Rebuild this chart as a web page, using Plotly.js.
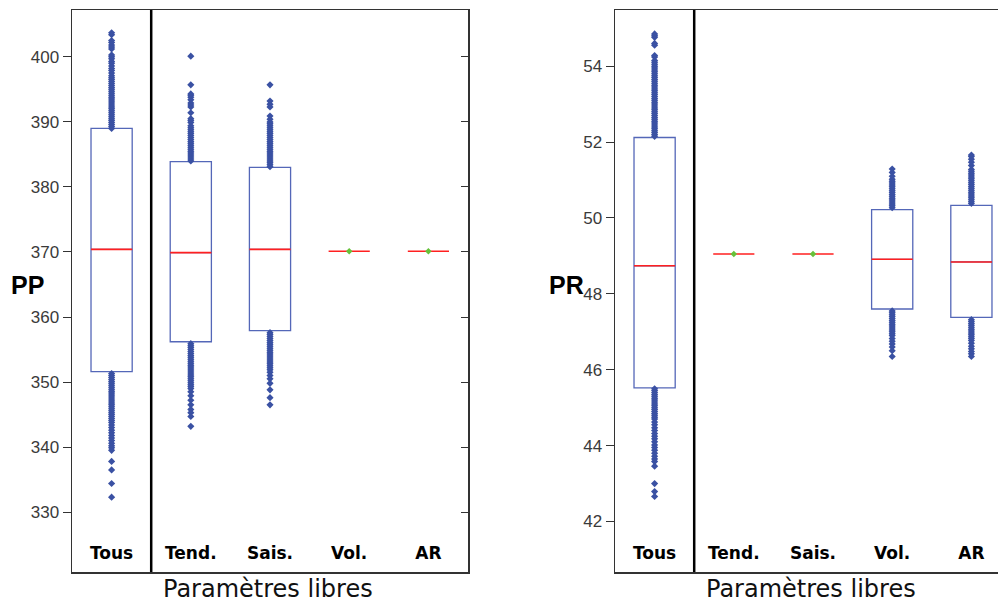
<!DOCTYPE html>
<html>
<head>
<meta charset="utf-8">
<script src="https://cdn.plot.ly/plotly-3.0.1.min.js"></script>
<style>html,body{margin:0;padding:0;background:#fff;}#chart{width:998px;height:604px;}</style>
</head>
<body>
<div id="chart"></div>
<script>
// ---------- categories ----------
var categories = ["Tous", "Tend.", "Sais.", "Vol.", "AR"];

// ---------- PP panel ----------
var ppBoxCats = ["Tous", "Tend.", "Sais."];
var ppQ1 = [351.6, 356.2, 357.9];
var ppMed = [370.4, 369.9, 370.4];
var ppQ3 = [389.0, 383.9, 383.0];
var ppAllMedians = [370.4, 369.9, 370.4, 370.1, 370.1];
var ppFixedCats = ["Vol.", "AR"];
var ppFixedVals = [370.1, 370.1];

var ppTousOut = [389.0,389.3,389.6,389.9,390.2,390.5,390.8,391.1,391.4,391.7,392.0,392.3,392.6,392.9,393.2,393.5,393.8,394.1,394.4,394.7,395.0,395.3,395.6,395.9,396.2,396.5,396.8,397.1,397.5,397.9,398.2,398.6,399.0,399.3,399.7,400.0,400.3,401.2,401.5,401.8,402.2,402.5,403.4,403.7,
  351.3,351.0,350.7,350.4,350.1,349.8,349.5,349.2,348.9,348.6,348.3,348.0,347.7,347.4,347.1,346.8,346.5,346.2,345.9,345.6,345.3,345.0,344.7,344.4,344.1,343.8,343.4,343.0,342.6,342.2,341.8,341.4,341.0,340.6,340.2,339.9,339.5,337.8,336.5,334.4,332.3];
var ppTendOut = [384.0,384.3,384.6,384.9,385.2,385.5,385.8,386.1,386.4,386.7,387.0,387.3,387.6,387.9,388.2,388.5,388.8,389.1,389.4,389.9,390.2,390.5,391.4,392.3,392.6,392.9,393.4,393.8,394.1,394.3,395.7,400.1,
  355.9,355.6,355.3,355.0,354.7,354.4,354.1,353.8,353.5,353.2,352.9,352.6,352.3,352.0,351.7,351.4,351.1,350.8,350.5,350.2,349.9,349.6,349.3,349.0,348.5,347.9,347.2,346.5,345.8,345.3,344.7,343.2];
var ppSaisOut = [383.1,383.4,383.7,384.0,384.3,384.6,384.9,385.2,385.5,385.8,386.1,386.4,386.7,387.0,387.3,387.6,387.9,388.2,388.5,388.8,389.1,389.4,389.7,390.0,390.4,390.9,392.3,392.7,393.2,395.7,
  357.6,357.3,357.0,356.7,356.4,356.1,355.8,355.5,355.2,354.9,354.6,354.3,354.0,353.7,353.4,353.1,352.8,352.5,352.2,351.9,351.5,351.0,350.5,349.8,348.8,347.6,346.5];

// ---------- PR panel ----------
var prBoxCats = ["Tous", "Vol.", "AR"];
var prQ1 = [45.52, 47.60, 47.38];
var prMed = [48.74, 48.91, 48.84];
var prQ3 = [52.12, 50.22, 50.33];
var prAllMedians = [48.74, 49.05, 49.05, 48.91, 48.84];
var prFixedCats = ["Tend.", "Sais."];
var prFixedVals = [49.05, 49.05];

var prTousOut = [52.15,52.20,52.25,52.30,52.35,52.40,52.45,52.50,52.55,52.60,52.65,52.70,52.75,52.80,52.85,52.90,52.95,53.00,53.05,53.10,53.15,53.20,53.25,53.30,53.35,53.40,53.45,53.50,53.55,53.60,53.65,53.70,53.75,53.80,53.85,53.90,53.95,54.00,54.05,54.10,54.15,54.24,54.28,54.55,54.60,54.76,54.80,54.85,
  45.50,45.45,45.40,45.35,45.30,45.25,45.20,45.15,45.10,45.05,45.00,44.95,44.90,44.85,44.80,44.75,44.70,44.62,44.55,44.47,44.40,44.32,44.25,44.18,44.10,44.02,43.95,43.88,43.80,43.72,43.65,43.58,43.46,43.00,42.79,42.66];
var prVolOut = [50.27,50.32,50.37,50.42,50.47,50.52,50.57,50.62,50.67,50.72,50.77,50.82,50.87,50.92,50.97,51.02,51.10,51.20,51.29,
  47.55,47.50,47.45,47.40,47.35,47.30,47.25,47.20,47.15,47.10,47.05,47.00,46.95,46.90,46.82,46.75,46.68,46.60,46.50,46.35];
var prAROut = [50.38,50.43,50.48,50.53,50.58,50.63,50.68,50.73,50.78,50.83,50.88,50.93,50.98,51.03,51.08,51.13,51.18,51.23,51.28,51.38,51.47,51.55,51.62,51.66,
  47.32,47.27,47.22,47.17,47.12,47.07,47.02,46.97,46.92,46.87,46.82,46.77,46.70,46.62,46.55,46.48,46.42,46.35];

// ---------- styles ----------
var boxColor = "#5467b8";
var ptColor = "#3a51a3";
var medColor = "#ff2020";
var fixColor = "#66c23a";
var axColor = "#333333";

function boxTrace(cats, q1, med, q3, xa, ya) {
  return {type: "box", x: cats, q1: q1, median: med, q3: q3, lowerfence: q1, upperfence: q3,
    xaxis: xa, yaxis: ya, width: 0.52, whiskerwidth: 0, boxpoints: false,
    line: {color: boxColor, width: 1.3}, fillcolor: "rgba(0,0,0,0)", hoverinfo: "skip", showlegend: false};
}
function medTrace(cats, med, xa, ya) {
  return {type: "box", x: cats, q1: med, median: med, q3: med, lowerfence: med, upperfence: med,
    xaxis: xa, yaxis: ya, width: 0.52, whiskerwidth: 0, boxpoints: false,
    line: {color: medColor, width: 1.6}, fillcolor: "rgba(0,0,0,0)", hoverinfo: "skip", showlegend: false};
}
function outTrace(cat, vals, xa, ya) {
  return {type: "scatter", mode: "markers", x: vals.map(function(){return cat;}), y: vals,
    xaxis: xa, yaxis: ya, marker: {symbol: "diamond", size: 5.5, color: ptColor}, showlegend: false, hoverinfo: "skip"};
}
function fixTrace(cats, vals, xa, ya) {
  return {type: "scatter", mode: "markers", x: cats, y: vals, xaxis: xa, yaxis: ya,
    marker: {symbol: "diamond", size: 5, color: fixColor}, showlegend: false, hoverinfo: "skip"};
}

var data = [
  boxTrace(ppBoxCats, ppQ1, ppMed, ppQ3, "x", "y"),
  outTrace("Tous", ppTousOut, "x", "y"),
  outTrace("Tend.", ppTendOut, "x", "y"),
  outTrace("Sais.", ppSaisOut, "x", "y"),
  medTrace(categories, ppAllMedians, "x", "y"),
  fixTrace(ppFixedCats, ppFixedVals, "x", "y"),
  boxTrace(prBoxCats, prQ1, prMed, prQ3, "x2", "y2"),
  outTrace("Tous", prTousOut, "x2", "y2"),
  outTrace("Vol.", prVolOut, "x2", "y2"),
  outTrace("AR", prAROut, "x2", "y2"),
  medTrace(categories, prAllMedians, "x2", "y2"),
  fixTrace(prFixedCats, prFixedVals, "x2", "y2"),
  // invisible trace to activate right-side tick axis of the left panel
  {type: "scatter", x: ["Tous"], y: [370], xaxis: "x", yaxis: "y3", mode: "markers", marker: {opacity: 0}, showlegend: false, hoverinfo: "skip"}
];

var catFont = {family: "DejaVu Sans", size: 17, color: "#000", weight: "bold"};
var tickFont = {family: "Liberation Sans, Arial", size: 17, color: "#3a3a3a"};

var ppRange = [320.8, 407.2];
var prRange = [40.67, 55.48];

var layout = {
  width: 998, height: 604,
  margin: {l: 0, r: 0, t: 10, b: 32},
  paper_bgcolor: "#fff", plot_bgcolor: "#fff",
  boxmode: "overlay",
  showlegend: false,
  xaxis: {domain: [72/998, 468/998], type: "category", categoryorder: "array", categoryarray: categories,
    range: [-0.5, 4.5], showline: true, linecolor: axColor, linewidth: 1.5, mirror: true,
    ticks: "", showgrid: false, zeroline: false, ticklabelposition: "inside", ticklabelstandoff: 10,
    tickfont: catFont, fixedrange: true},
  yaxis: {domain: [0, 1], range: ppRange, tickvals: [330, 340, 350, 360, 370, 380, 390, 400],
    showline: true, linecolor: axColor, linewidth: 1.5, mirror: true, ticks: "outside", ticklen: 8,
    tickcolor: axColor, tickwidth: 1, showgrid: false, zeroline: false, tickfont: tickFont},
  yaxis3: {overlaying: "y", side: "right", anchor: "x", range: ppRange, tickvals: [330, 340, 350, 360, 370, 380, 390, 400],
    showticklabels: false, ticks: "inside", ticklen: 7, tickcolor: axColor, showline: false, showgrid: false, zeroline: false},
  xaxis2: {domain: [615/998, 1], anchor: "y2", type: "category", categoryorder: "array", categoryarray: categories,
    range: [-0.5, 4.336], showline: true, linecolor: axColor, linewidth: 1.5, mirror: true,
    ticks: "", showgrid: false, zeroline: false, ticklabelposition: "inside", ticklabelstandoff: 10,
    tickfont: catFont, fixedrange: true},
  yaxis2: {domain: [0, 1], anchor: "x2", range: prRange, tickvals: [42, 44, 46, 48, 50, 52, 54],
    showline: true, linecolor: axColor, linewidth: 1.5, mirror: false, ticks: "outside", ticklen: 8,
    tickcolor: axColor, tickwidth: 1, showgrid: false, zeroline: false, tickfont: tickFont},
  shapes: [
    {type: "line", xref: "x", yref: "y domain", x0: 0.5, x1: 0.5, y0: 0, y1: 1, line: {color: "#000", width: 2.5}},
    {type: "line", xref: "x2", yref: "y2 domain", x0: 0.5, x1: 0.5, y0: 0, y1: 1, line: {color: "#000", width: 2.5}}
  ],
  annotations: [
    {text: "PP", xref: "paper", yref: "paper", x: 27/998, y: (572-285)/562, xanchor: "center", yanchor: "middle", showarrow: false,
      font: {family: "Liberation Sans, Arial", size: 25, color: "#000", weight: "bold"}},
    {text: "PR", xref: "paper", yref: "paper", x: 566/998, y: (572-285)/562, xanchor: "center", yanchor: "middle", showarrow: false,
      font: {family: "Liberation Sans, Arial", size: 25, color: "#000", weight: "bold"}},
    {text: "Paramètres libres", xref: "paper", yref: "paper", x: 268/998, y: (572-589)/562, xanchor: "center", yanchor: "middle", showarrow: false,
      font: {family: "DejaVu Sans", size: 24, color: "#111"}},
    {text: "Paramètres libres", xref: "paper", yref: "paper", x: 811/998, y: (572-589)/562, xanchor: "center", yanchor: "middle", showarrow: false,
      font: {family: "DejaVu Sans", size: 24, color: "#111"}}
  ]
};

Plotly.newPlot("chart", data, layout, {staticPlot: true, displayModeBar: false});
</script>
</body>
</html>
